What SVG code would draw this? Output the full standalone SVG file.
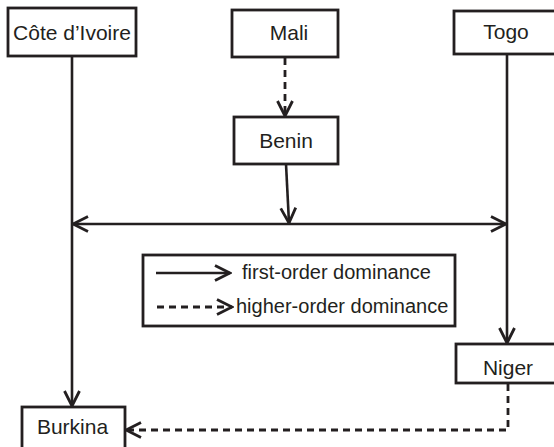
<svg xmlns="http://www.w3.org/2000/svg" width="554" height="447" viewBox="0 0 554 447">
  <style>
    .box { fill: #ffffff; stroke: #231f20; stroke-width: 2.8; }
    .lbl { font-family: "Liberation Sans", Arial, sans-serif; font-size: 21px; fill: #231f20; text-anchor: middle; }
    .leg { font-family: "Liberation Sans", Arial, sans-serif; font-size: 20px; fill: #231f20; }
    .solid { fill: none; stroke: #231f20; stroke-width: 2.6; }
    .dash { fill: none; stroke: #231f20; stroke-width: 2.8; stroke-dasharray: 7 5; }
  </style>
  <defs>
    <marker id="arr" viewBox="0 0 20 20" markerWidth="20" markerHeight="20" refX="18" refY="10" orient="auto-start-reverse" markerUnits="userSpaceOnUse">
      <path d="M3,2.5 L18,10 L3,17.5" fill="none" stroke="#231f20" stroke-width="2.8"/>
    </marker>
  </defs>
  <rect width="554" height="447" fill="#ffffff"/>

  <g id="connectors">
    <line class="dash" x1="285" y1="58" x2="285" y2="116" marker-end="url(#arr)"/>
    <line class="solid" x1="286" y1="164" x2="289" y2="223" marker-end="url(#arr)"/>
    <line class="solid" x1="72" y1="56" x2="72" y2="406" marker-end="url(#arr)"/>
    <line class="solid" x1="507" y1="54" x2="507" y2="343" marker-end="url(#arr)"/>
    <line class="solid" x1="73" y1="224" x2="506" y2="224" marker-start="url(#arr)" marker-end="url(#arr)"/>
    <polyline class="dash" points="508,384 508,430 126,430" marker-end="url(#arr)"/>
  </g>

  <g id="cote">
    <rect class="box" x="8" y="8" width="128" height="48"/>
    <text class="lbl" x="72" y="40">Côte d’Ivoire</text>
  </g>
  <g id="mali">
    <rect class="box" x="232" y="10" width="106" height="47"/>
    <text class="lbl" x="289" y="40">Mali</text>
  </g>
  <g id="togo">
    <rect class="box" x="454" y="11" width="104" height="43"/>
    <text class="lbl" x="506" y="39">Togo</text>
  </g>
  <g id="benin">
    <rect class="box" x="234" y="117" width="104" height="47"/>
    <text class="lbl" x="286" y="148">Benin</text>
  </g>
  <g id="niger">
    <rect class="box" x="456" y="344" width="102" height="39"/>
    <text class="lbl" x="508" y="375">Niger</text>
  </g>
  <g id="burkina">
    <rect class="box" x="22" y="407" width="103" height="45"/>
    <text class="lbl" x="72.5" y="434">Burkina</text>
  </g>

  <g id="legend">
    <rect class="box" x="143" y="255" width="312" height="71"/>
    <line class="solid" x1="156" y1="273" x2="230" y2="273" marker-end="url(#arr)"/>
    <text class="leg" x="242" y="279">first-order dominance</text>
    <line class="dash" x1="157" y1="307" x2="232" y2="307" marker-end="url(#arr)"/>
    <text class="leg" x="236" y="313">higher-order dominance</text>
  </g>
</svg>
